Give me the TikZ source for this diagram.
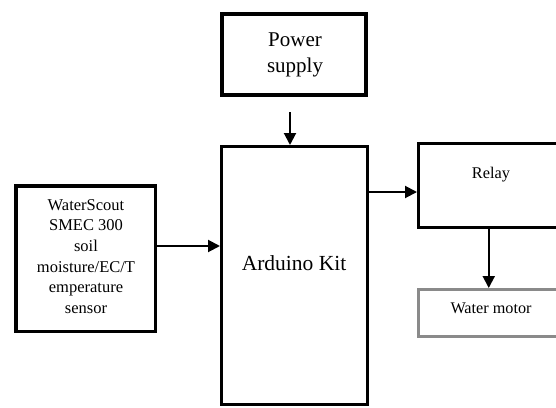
\documentclass[tikz,border=0pt]{standalone}
\usepackage{fontspec}
\setmainfont{Liberation Serif}
\usetikzlibrary{arrows.meta}
\definecolor{motorgray}{HTML}{8A8A8A}
\begin{document}
\begin{tikzpicture}[x=1pt,y=-1pt,
  box/.style={draw=black,rectangle,inner sep=0pt,fill=white},
  arr/.style={line width=2pt,-{Triangle[width=12pt,length=12pt]}},
  txt/.style={inner sep=0pt,align=center,text=black}]
\useasboundingbox (0,0) rectangle (556,407);
\clip (0,0) rectangle (556,407);
% boxes
\node[box,line width=4pt,minimum width=144pt,minimum height=81pt] (power) at (294,54.5) {};
\node[box,line width=3pt,minimum width=146pt,minimum height=258pt] (arduino) at (294.5,275.5) {};
\node[box,line width=3.5pt,minimum width=139.5pt,minimum height=145.5pt] (sensor) at (85.5,258.5) {};
\node[box,line width=3pt,minimum width=147.5pt,minimum height=84pt] (relay) at (492.25,185.5) {};
\node[box,draw=motorgray,line width=3pt,minimum width=147.5pt,minimum height=47pt] (motor) at (492.25,313) {};
% texts
\node[txt,font=\fontsize{21}{26}\selectfont] (powertxt) at (295,55) {Power\\supply};
\node[txt,font=\fontsize{21.5}{26}\selectfont] (arduinotxt) at (294,263) {Arduino Kit};
\node[txt,font=\fontsize{16.5}{20.6}\selectfont] (sensortxt) at (86,256.5) {WaterScout\\SMEC 300\\soil\\moisture/EC/T\\emperature\\sensor};
\node[txt,font=\fontsize{16.3}{20}\selectfont] (relaytxt) at (491,175) {Relay};
\node[txt,font=\fontsize{16.2}{20}\selectfont] (motortxt) at (491,308) {Water motor};
% connectors
\coordinate (pstart) at (290,112);
\draw[arr] (pstart) -- (pstart |- arduino.north);
\draw[arr] ([yshift=12.5pt]sensor.east) -- ([yshift=12.5pt]sensor.east -| arduino.west);
\draw[arr] ([yshift=-6.5pt]relay.west -| arduino.east) -- ([yshift=-6.5pt]relay.west);
\draw[arr] ([xshift=-3.5pt]relay.south) -- ([xshift=-3.5pt]motor.north);
\end{tikzpicture}
\end{document}
